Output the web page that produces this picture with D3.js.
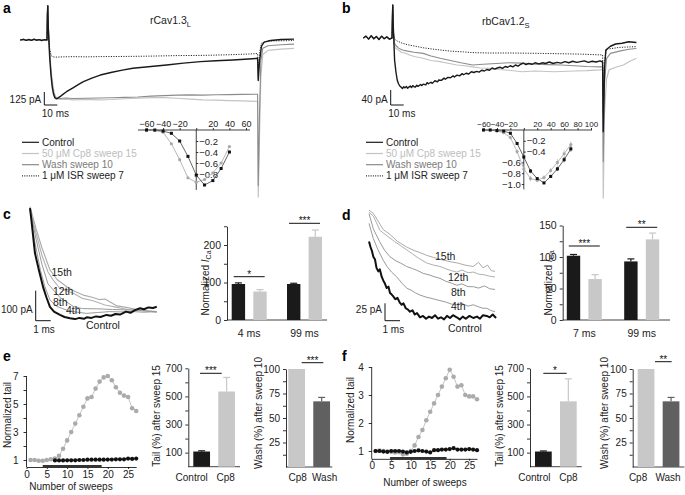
<!DOCTYPE html>
<html><head><meta charset="utf-8">
<script src="https://cdn.jsdelivr.net/npm/d3@7"></script>
<style>body{margin:0;background:#fff;}</style>
</head><body>
<script>
// ================= DATA =================
// Panel a traces (time ms, current pA)
const preA=[[-20.5,0],[-18,6],[-16,-4],[-14,5],[-12,-3],[-10,7],[-8,-2],[-6,4],[-4,-5],[-2,3],[0,0]];
const aCtrl=[[0.3,250],[0.6,330],[1,120],[2,-150],[3,-330],[4,-450],[5,-520],[6,-555],[7,-565],[8,-562],[10,-545],[12,-525],[15,-497],[20,-460],[24,-430],[28,-401],[35,-365],[41,-337],[50,-310],[58,-290],[66,-272],[80,-255],[92,-240],[105,-222],[118,-208],[130,-200],[143,-192],[155,-183],[162,-176],[162.5,-390],[163.5,-200],[165,-60],[167,-20],[172,-5],[180,5],[190,8]];
const aCp8=[[0.3,250],[0.6,330],[1,120],[2,-100],[3,-260],[4,-380],[5,-470],[6,-525],[7,-550],[8,-565],[10,-572],[15,-568],[20,-575],[30,-570],[40,-575],[50,-572],[60,-565],[70,-560],[80,-555],[90,-555],[100,-560],[110,-568],[120,-575],[130,-578],[140,-582],[150,-585],[162,-590],[162.5,-1510],[163.5,-900],[164.5,-350],[166,-140],[170,-100],[180,-88],[190,-80]];
const aWash=[[0.3,250],[0.6,330],[1,120],[2,-120],[3,-300],[4,-420],[5,-500],[6,-540],[7,-555],[8,-560],[10,-562],[15,-558],[20,-562],[30,-560],[40,-558],[50,-555],[60,-552],[70,-548],[80,-540],[90,-535],[100,-530],[110,-528],[120,-530],[130,-527],[140,-525],[150,-523],[162,-522],[162.5,-1400],[163.5,-700],[164.5,-200],[166,-80],[170,-55],[180,-45],[190,-40]];
const aISR=[[0.3,250],[0.6,330],[1,60],[2,-80],[3,-140],[4,-160],[6,-165],[10,-163],[20,-160],[30,-162],[40,-160],[60,-158],[80,-155],[100,-150],[120,-148],[140,-142],[155,-135],[162,-130],[162.5,-360],[163.5,-120],[165,-30],[170,-10],[190,-5]];

// Panel b traces
const preB=[[-22,0],[-20,5],[-18,-3],[-16,6],[-14,-2],[-12,4],[-10,-4],[-8,5],[-6,-2],[-4,3],[-2,-3],[0,0]];
const bCtrl=[[0.3,60],[0.6,88],[1,30],[2,-59],[3,-90],[4,-112],[5,-122],[6,-128],[7,-131],[8,-135],[9,-130],[10,-133],[11,-129],[12,-134],[13,-131],[14,-128],[15,-132],[16,-127],[17,-130],[18,-131],[19,-126],[20,-129],[22,-124],[23,-127],[24,-123],[26,-125],[27,-119],[28,-122],[30,-118],[31,-121],[33,-114],[35,-117],[36,-112],[38,-113],[40,-107],[41,-110],[43,-105],[45,-106],[47,-101],[48,-104],[50,-99],[52,-101],[54,-95],[55,-98],[57,-94],[59,-96],[61,-90],[63,-92],[65,-89],[67,-91],[69,-86],[71,-88],[73,-84],[75,-86],[77,-80],[79,-83],[81,-80],[83,-78],[85,-81],[87,-76],[89,-78],[91,-74],[93,-77],[95,-72],[97,-75],[99,-70],[101,-67],[103,-71],[105,-68],[108,-70],[110,-66],[113,-69],[116,-66],[118,-68],[121,-64],[124,-68],[127,-65],[130,-67],[133,-63],[136,-66],[139,-62],[142,-65],[145,-63],[148,-61],[151,-65],[154,-62],[157,-64],[160,-61],[162,-64],[162.5,-250],[163.5,-80],[164.5,-32],[168,-22],[172,-16],[177,-14],[182,-10],[188,-12]];
const bCp8=[[0.3,50],[0.6,88],[1,20],[2,-23],[3,-28],[5,-32],[7,-38],[10,-40],[14,-46],[18,-50],[24,-54],[30,-60],[37,-63],[44,-68],[50,-72],[56,-74],[62,-77],[68,-80],[75,-81],[82,-84],[90,-86],[100,-90],[110,-88],[125,-90],[140,-88],[150,-87],[160,-85],[162,-84],[162.5,-427],[163.5,-200],[165,-110],[167,-85],[172,-78],[178,-72],[183,-62],[188,-54]];
const bWash=[[0.3,50],[0.6,88],[1,20],[2,-14],[3,-20],[5,-27],[8,-32],[12,-35],[17,-38],[24,-41],[30,-48],[37,-54],[45,-60],[53,-66],[62,-72],[70,-70],[80,-68],[90,-66],[100,-67],[110,-70],[120,-71],[130,-72],[140,-74],[150,-76],[160,-77],[162,-77],[162.5,-330],[163.5,-120],[165,-55],[168,-41],[175,-35],[182,-30],[188,-28]];
const bISR=[[0.3,40],[0.6,88],[1,15],[2,-3],[4,-8],[8,-14],[12,-18],[18,-22],[24,-26],[30,-29],[37,-32],[45,-35],[55,-37],[62,-39],[75,-40],[90,-40],[114,-41],[130,-42],[145,-43],[160,-45],[162,-45],[162.5,-200],[163.5,-60],[165,-30],[175,-25],[188,-23]];

// I-V insets (mV, normalized current)
const ivVoltA=[-60,-50,-40,-30,-20,-10,0,10,20,30,40];
const ivCtrlA=[0,0,-0.02,-0.06,-0.2,-0.48,-0.82,-1.0,-0.92,-0.7,-0.4];
const ivCp8A=[-0.01,-0.01,-0.04,-0.25,-0.54,-0.87,-0.95,-0.9,-0.78,-0.6,-0.3];
const ivVoltB=[-60,-50,-40,-30,-20,-10,0,10,20,30,40,50,60,70];
const ivCtrlB=[0,0,-0.01,-0.02,-0.06,-0.25,-0.5,-0.76,-0.9,-0.98,-0.86,-0.72,-0.55,-0.35];
const ivCp8B=[0,0,-0.02,-0.05,-0.14,-0.4,-0.72,-0.9,-0.93,-0.88,-0.75,-0.6,-0.44,-0.27];
const ivCtrlErrB=[0,0,0,0.01,0.02,0.03,0.04,0.04,0.03,0.02,0.03,0.04,0.05,0.05];
const ivCp8ErrB=[0,0,0,0.01,0.02,0.04,0.05,0.05,0.04,0.04,0.05,0.06,0.07,0.06];

const legendLabels=["Control","50 \u03bcM Cp8 sweep 15","Wash sweep 10","1 \u03bcM ISR sweep 7"];

// Panel c tail traces (ms, pA)
const c15=[[0,378],[0.4,305],[0.8,240],[1.33,167],[1.8,135],[2.45,111],[3,95],[3.55,83],[4.2,75],[4.6,68],[5,70],[5.8,47],[6.4,42],[7.33,33],[7.8,30],[8.45,25]];
const c12=[[0,375],[0.4,290],[0.8,215],[1.2,160],[1.55,133],[2,105],[2.89,89],[3.5,72],[4.2,64],[5,50],[5.8,42],[6.5,35],[7.33,33],[8,30],[8.45,28]];
const c8=[[0,372],[0.4,270],[0.8,185],[1.2,120],[1.56,100],[2,75],[2.89,45],[3.5,38],[4.67,37],[5.5,35],[6.87,33],[7.7,30],[8.45,28]];
const c4=[[0,370],[0.3,265],[0.7,165],[1,110],[1.33,67],[1.8,45],[2.45,33],[3,27],[3.78,22],[4.5,25],[5.33,28],[6,27],[6.87,28],[7.6,26],[8.45,28]];
const cCtrl=[[0,373],[0.1,330],[0.33,223],[0.6,165],[0.89,107],[1.1,75],[1.33,44],[1.6,28],[2,17],[2.3,10],[2.67,6],[3,3],[3.3,7],[3.6,4],[3.78,9],[4.1,7],[4.4,12],[4.7,10],[5.1,17],[5.4,14],[5.7,20],[6,18],[6.4,28],[6.7,24],[7,33],[7.33,39],[7.6,36],[7.9,42],[8.2,40],[8.45,44]];

// Panel d tail traces
const d15=[[0,155],[0.3,150],[0.95,127],[1.4,120],[1.9,110],[2.51,102],[3,97],[3.4,94],[3.85,90],[4.3,87],[4.8,84],[5.4,81],[5.9,79],[6.4,76],[6.95,74],[7.3,80],[7.6,72],[7.9,76],[8.15,68],[8.4,67]];
const d12=[[0,152],[0.3,146],[0.73,126],[1.2,118],[1.7,110],[2.1,104],[2.51,98],[2.9,92],[3.3,86],[3.85,79],[4.3,76],[4.73,74],[5.2,70],[5.5,68],[5.85,66],[6.2,69],[6.6,65],[6.95,66],[7.3,63],[7.7,62],[8.05,60],[8.4,59]];
const d8=[[0,150],[0.29,128],[0.7,110],[1.05,97],[1.4,88],[1.8,82],[2.1,79],[2.51,74],[2.9,71],[3.25,68],[3.62,64],[4,62],[4.4,59],[4.73,57],[5.1,53],[5.5,50],[5.85,47],[6.2,49],[6.6,45],[6.95,45],[7.3,43],[7.7,46],[8.05,42],[8.4,41]];
const d4=[[0,136],[0.29,114],[0.6,98],[0.95,83],[1.2,74],[1.5,66],[1.85,59],[2.2,50],[2.51,43],[2.8,40],[3.1,36],[3.4,33],[3.8,30],[4.2,28],[4.73,25],[5.1,23],[5.5,20],[5.85,19],[6.2,21],[6.6,17],[6.95,19],[7.3,16],[7.6,14],[7.85,14],[8.1,11],[8.4,9]];
const dCtrl=[[0,110],[0.1,102],[0.2,96],[0.29,88],[0.4,84],[0.5,72],[0.62,67],[0.72,70],[0.85,59],[0.95,54],[1.05,50],[1.18,43],[1.3,45],[1.4,36],[1.5,34],[1.62,31],[1.75,27],[1.9,29],[2.05,22],[2.18,19],[2.3,21],[2.45,14],[2.6,12],[2.73,9],[2.9,11],[3.05,5],[3.2,7],[3.4,1],[3.6,3],[3.8,-1],[4,2],[4.2,0],[4.4,4],[4.6,-1],[4.8,1],[5,-2],[5.2,3],[5.4,0],[5.6,4],[5.85,1],[6.05,-2],[6.25,2],[6.45,-1],[6.7,3],[6.95,0],[7.2,2],[7.4,-1],[7.6,4],[7.85,3],[8.05,1],[8.25,5],[8.47,0]];

// Bar charts c, d
const cGroups=["4 ms","99 ms"];
const cCtrlBar=[96,96], cCtrlErr=[3,2], cCp8Bar=[76,222], cCp8Err=[5,18];
const dGroups=["7 ms","99 ms"];
const dCtrlBar=[102,93], dCtrlErr=[2,4], dCp8Bar=[65,128], dCp8Err=[7,10];

// Panel e/f sweep data
const sweepsAll=[1,2,3,4,5,6,7,8,9,10,11,12,13,14,15,16,17,18,19,20,21,22,23,24,25,26,27];
const eCp8=[1.0,1.0,0.95,0.95,1.0,1.05,1.1,1.3,1.8,2.4,3.0,3.6,4.2,4.8,5.4,5.5,6.1,6.6,6.9,7.0,6.7,6.2,5.8,5.6,5.5,4.7,4.5];
const eCtrlSweeps=[7,8,9,10,11,12,13,14,15,16,17,18,19,20,21,22,23,24,25,26,27];
const eCtrl=[0.97,0.97,0.97,0.98,0.98,0.98,1.0,1.0,1.02,1.02,1.02,1.02,1.02,1.03,1.03,1.05,1.05,1.05,1.1,1.08,1.1];
const fCp8=[1.0,1.02,1.0,0.98,0.97,0.95,0.96,0.88,0.9,1.0,1.2,1.5,1.75,2.1,2.4,2.7,3.0,3.3,3.6,3.9,3.65,3.3,3.35,3.0,2.95,2.95,2.85];
const fCtrl=[1.0,1.0,0.98,0.97,1.0,1.0,1.0,0.98,0.95,0.97,1.0,1.02,1.0,0.98,0.95,1.03,1.03,1.05,1.05,1.07,1.1,1.05,1.05,1.05,1.07,1.05,1.03];
const eAppl=[4,18.5], fAppl=[4.7,19.2];

const tailCats=["Control","Cp8"], washCats=["Cp8","Wash"];
const eTail=[108,535], eTailErr=[5,100];
const eWash=[100,67], eWashErr=[0,4];
const fTail=[108,465], fTailErr=[4,160];
const fWash=[100,67], fWashErr=[0,4];

// ================= DRAWING =================
const FONT='"Liberation Sans", Arial, Helvetica, sans-serif';
const COL={black:"#1a1a1a", light:"#c3c3c3", mid:"#8c8c8c", dark:"#606060", lgTxt:"#bdbdbd", mdTxt:"#7a7a7a"};
const FS=10;
const svg=d3.select("body").append("svg").attr("width",685).attr("height",495)
  .style("font-family",FONT).style("background","#fff");

function txt(x,y,s,o={}){
  const t=svg.append("text").attr("x",x).attr("y",y).text(s)
    .attr("font-size",o.size||FS).attr("fill",o.fill||"#222")
    .attr("text-anchor",o.anchor||"start");
  if(o.weight) t.attr("font-weight",o.weight);
  return t;
}
function ln(x1,y1,x2,y2,o={}){
  return svg.append("line").attr("x1",x1).attr("y1",y1).attr("x2",x2).attr("y2",y2)
    .attr("stroke",o.stroke||"#111").attr("stroke-width",o.w||0.9)
    .attr("stroke-dasharray",o.dash||null);
}
function trace(data,xs,ys,o){
  svg.append("path").datum(data)
    .attr("d",d3.line().x(d=>xs(d[0])).y(d=>ys(d[1])))
    .attr("fill","none").attr("stroke",o.stroke).attr("stroke-width",o.w||1)
    .attr("stroke-dasharray",o.dash||null).attr("stroke-linejoin","round");
}
function styleAxis(g,size){
  g.attr("font-family",FONT).attr("font-size",size||FS);
  g.select(".domain").attr("stroke-width",0.8);
  g.selectAll(".tick line").attr("stroke-width",0.8);
  g.selectAll(".tick text").attr("fill","#222");
  return g;
}
function rotText(x,y,s){
  return svg.append("text").attr("transform",`translate(${x},${y}) rotate(-90)`).attr("text-anchor","middle")
    .attr("font-size",FS).attr("fill","#222").text(s);
}

// ---- panel letters
[["a",3,13],["b",342,13],["c",3,219],["d",342,220],["e",3,361],["f",342,361]].forEach(d=>txt(d[1],d[2],d[0],{size:14,weight:"bold",fill:"#000"}));

// ---- titles
const tA=txt(150,24,"rCav1.3",{size:10.5});
tA.append("tspan").attr("dy",3).attr("font-size",7.5).text("L");
const tB=txt(482,25,"rbCav1.2",{size:10.5});
tB.append("tspan").attr("dy",3).attr("font-size",7.5).text("S");

// ---- traces panels a,b
function tracePanel(cfg){
  const xs=cfg.xs, ys=cfg.ys;
  const sets=[[cfg.cp8,COL.light,1.2,null],[cfg.wash,COL.mid,1.1,null],[cfg.isr,"#2a2a2a",1,"1.2,1.3"],[cfg.ctrl,COL.black,1.4,null]];
  sets.forEach(s=>trace(cfg.pre.concat(s[0]),xs,ys,{stroke:s[1],w:s[2],dash:s[3]}));
  const bx=cfg.sb[0], by=cfg.sb[1];
  const vlen=ys(-cfg.sbPA)-ys(0), hlen=xs(10)-xs(0);
  ln(bx,by,bx,by-vlen,{w:1}); ln(bx,by,bx+hlen,by,{w:1});
  txt(bx-3,by-2,cfg.sbLabel,{anchor:"end"});
  txt(bx-2.5,by+12,"10 ms");
  const cols=[COL.black,COL.light,COL.mid,"#2a2a2a"], tcols=["#222",COL.lgTxt,COL.mdTxt,"#222"];
  legendLabels.forEach((l,i)=>{
    const y=cfg.leg[1]+i*11.2;
    ln(cfg.leg[0],y,cfg.leg[0]+17,y,{stroke:cols[i],w:1.2,dash:i===3?"1,1.3":null});
    txt(cfg.leg[0]+20,y+3.5,l,{fill:tcols[i]});
  });
}
tracePanel({pre:preA,ctrl:aCtrl,cp8:aCp8,wash:aWash,isr:aISR,
  xs:d3.scaleLinear().domain([0,10]).range([47,60]),
  ys:d3.scaleLinear().domain([0,-125]).range([40,53]),
  sb:[44.3,105],sbPA:125,sbLabel:"125 pA",leg:[22,142.3]});
tracePanel({pre:preB,ctrl:bCtrl,cp8:bCp8,wash:bWash,isr:bISR,
  xs:d3.scaleLinear().domain([0,10]).range([392,405]),
  ys:d3.scaleLinear().domain([0,-40]).range([38,53]),
  sb:[390.7,105],sbPA:40,sbLabel:"40 pA",leg:[366,142.3]});

// ---- IV insets
function ivPanel(cfg){
  const xs=cfg.xs, ys=cfg.ys, x0=xs(0);
  const gx=svg.append("g").attr("transform",`translate(0,${ys(0)})`)
    .call(d3.axisTop(xs).tickValues(cfg.xt).tickFormat(d=>d===0?"":d3.format("")(d)).tickSize(2).tickSizeOuter(0).tickPadding(1.5));
  styleAxis(gx,cfg.xfs); gx.select(".domain").remove();
  ln(cfg.xl[0],ys(0),cfg.xl[1],ys(0),{w:0.8});
  ln(x0,ys(0),x0,ys(cfg.ybot),{w:0.8});
  const gr=svg.append("g").attr("transform",`translate(${x0},0)`)
    .call(d3.axisRight(ys).tickValues(cfg.ytR).tickFormat(d3.format(".1f")).tickSize(2).tickPadding(1));
  styleAxis(gr,9.5); gr.select(".domain").remove();
  if(cfg.ytL){
    const gl=svg.append("g").attr("transform",`translate(${x0},0)`)
      .call(d3.axisLeft(ys).tickValues(cfg.ytL).tickFormat(d3.format(".1f")).tickSize(2).tickPadding(1));
    styleAxis(gl,9.5); gl.select(".domain").remove();
  }
  const lineG=d3.line().x(d=>xs(d[0])).y(d=>ys(d[1]));
  const cp=cfg.v.map((v,i)=>[v,cfg.cp8[i]]), ct=cfg.v.map((v,i)=>[v,cfg.ctrl[i]]);
  if(cfg.cp8Err){
    cp.forEach((d,i)=>{ if(cfg.cp8Err[i]>0.015) ln(xs(d[0]),ys(d[1]-cfg.cp8Err[i]),xs(d[0]),ys(d[1]+cfg.cp8Err[i]),{stroke:"#b5b5b5",w:0.7}); });
    ct.forEach((d,i)=>{ if(cfg.ctrlErr[i]>0.015) ln(xs(d[0]),ys(d[1]-cfg.ctrlErr[i]),xs(d[0]),ys(d[1]+cfg.ctrlErr[i]),{stroke:"#333",w:0.7}); });
  }
  svg.append("path").datum(cp).attr("d",lineG).attr("fill","none").attr("stroke","#b8b8b8").attr("stroke-width",1);
  svg.append("path").datum(ct).attr("d",lineG).attr("fill","none").attr("stroke","#555").attr("stroke-width",0.9);
  svg.selectAll(null).data(cp).enter().append("circle").attr("cx",d=>xs(d[0])).attr("cy",d=>ys(d[1])).attr("r",1.6).attr("fill","#a8a8a8");
  svg.selectAll(null).data(ct).enter().append("rect").attr("x",d=>xs(d[0])-1.5).attr("y",d=>ys(d[1])-1.5).attr("width",3).attr("height",3).attr("fill","#111");
}
ivPanel({xs:d3.scaleLinear().domain([-60,60]).range([146.5,246]),ys:d3.scaleLinear().domain([0,-1]).range([130,185]),
  xt:[-60,-40,-20,0,20,40,60],xl:[138,250],ybot:-1.09,ytR:[-0.2,-0.4,-0.6,-0.8],xfs:9,
  v:ivVoltA,ctrl:ivCtrlA,cp8:ivCp8A});
ivPanel({xs:d3.scaleLinear().domain([-60,100]).range([483.5,591]),ys:d3.scaleLinear().domain([0,-1]).range([130,184]),
  xt:[-60,-40,-20,0,20,40,60,80,100],xl:[482,592],ybot:-1.1,ytR:[-0.2,-0.4],ytL:[-0.6,-0.8,-1.0],xfs:8,
  v:ivVoltB,ctrl:ivCtrlB,cp8:ivCp8B,ctrlErr:ivCtrlErrB,cp8Err:ivCp8ErrB});

// ---- tail traces c, d
function tailPanel(cfg){
  const xs=cfg.xs, ys=cfg.ys;
  cfg.sets.forEach(s=>trace(s[0],xs,ys,{stroke:s[1],w:s[2]}));
  const bx=cfg.sb[0], by=cfg.sb[1];
  ln(bx,by,bx,by-(ys(0)-ys(cfg.sbPA)),{w:1});
  ln(bx,by,bx+(xs(1)-xs(0)),by,{w:1});
  txt(bx-3,by-8,cfg.sbLabel,{anchor:"end"});
  txt(bx-2.5,by+12,"1 ms");
  cfg.labels.forEach(l=>txt(l[1],l[2],l[0],{size:10.5}));
}
tailPanel({xs:d3.scaleLinear().domain([0,1]).range([30,45]),ys:d3.scaleLinear().domain([0,100]).range([320,290]),
  sets:[[c15,"#ababab",1.1],[c12,"#b3b3b3",1.1],[c8,"#9a9a9a",1],[c4,"#9a9a9a",1],[cCtrl,"#111",2]],
  sb:[35.7,320.7],sbPA:100,sbLabel:"100 pA",
  labels:[["15th",51.5,276],["12th",53,295],["8th",53,305.5],["4th",66,314],["Control",86,329]]});
tailPanel({xs:d3.scaleLinear().domain([0,1]).range([369,384]),ys:d3.scaleLinear().domain([0,25]).range([318,300.6]),
  sets:[[d15,"#ababab",1],[d12,"#b0b0b0",1],[d8,"#9a9a9a",1],[d4,"#9a9a9a",1],[dCtrl,"#111",2]],
  sb:[385,320.7],sbPA:25,sbLabel:"25 pA",
  labels:[["15th",435,260],["12th",448,281],["8th",451,295.5],["4th",451,310],["Control",448,332]]});

// ---- grouped bar charts c, d
function normLabel(x,y){
  const t=svg.append("text").attr("transform",`translate(${x},${y}) rotate(-90)`).attr("text-anchor","middle")
    .attr("font-size",FS).attr("fill","#222");
  t.append("tspan").text("Normalized ");
  t.append("tspan").attr("font-style","italic").text("I");
  t.append("tspan").attr("font-size",7).attr("dy",2).text("Ca");
}
function stars(x1,x2,y,s){
  ln(x1,y,x2,y,{w:1});
  txt((x1+x2)/2,y+1,s,{anchor:"middle",size:10,fill:"#111"});
}
function groupBars(cfg){
  const xg=d3.scalePoint().domain(cfg.groups).range(cfg.gr);
  const sub=d3.scaleBand().domain(["Control","Cp8"]).range([-17.5,17.5]).paddingInner(0.38);
  const y=cfg.y;
  const gy=svg.append("g").attr("transform",`translate(${cfg.ax},0)`)
    .call(d3.axisLeft(y).tickValues(cfg.ticks).tickFormat(d=>cfg.lab.includes(d)?d:"").tickSize(3).tickSizeOuter(0));
  styleAxis(gy,10.5);
  ln(cfg.ax,y(0),cfg.xEnd,y(0),{w:0.8});
  const series=[["Control",cfg.ctrl,cfg.ctrlErr,COL.black],["Cp8",cfg.cp8,cfg.cp8Err,"#c8c8c8"]];
  series.forEach(s=>{
    cfg.groups.forEach((g,i)=>{
      const x=xg(g)+sub(s[0]), w=sub.bandwidth(), cx=x+w/2;
      const top=y(s[1][i]+s[2][i]);
      ln(cx,y(s[1][i]),cx,top,{stroke:s[3],w:1.2});
      ln(cx-3.5,top,cx+3.5,top,{stroke:s[3],w:1.2});
      svg.append("rect").attr("x",x).attr("y",y(s[1][i])).attr("width",w).attr("height",y(0)-y(s[1][i])).attr("fill",s[3]);
    });
  });
  cfg.groups.forEach(g=>txt(xg(g),y(0)+17,g,{anchor:"middle",size:10.5}));
  normLabel(cfg.lx,cfg.ly);
  cfg.stars.forEach(s=>{
    const g=cfg.groups[s[0]];
    stars(xg(g)+sub("Control")+2,xg(g)+sub("Cp8")+sub.bandwidth()-2,s[1],s[2]);
  });
}
groupBars({groups:cGroups,gr:[249.2,304.5],y:d3.scaleLinear().domain([0,250]).range([320,226.25]),ax:227,xEnd:327,
  ticks:[0,50,100,150,200,250],lab:[0,100,200],ctrl:cCtrlBar,ctrlErr:cCtrlErr,cp8:cCp8Bar,cp8Err:cCp8Err,
  lx:209,ly:283,stars:[[0,276.7,"*"],[1,223.3,"***"]]});
groupBars({groups:dGroups,gr:[584.3,641.7],y:d3.scaleLinear().domain([0,150]).range([320,225.5]),ax:562.7,xEnd:670,
  ticks:[0,25,50,75,100,125,150],lab:[0,50,100,150],ctrl:dCtrlBar,ctrlErr:dCtrlErr,cp8:dCp8Bar,cp8Err:dCp8Err,
  lx:552,ly:283,stars:[[0,246,"***"],[1,227.3,"**"]]});

// ---- sweep scatter e, f
function sweepPanel(cfg){
  const xs=cfg.xs, ys=cfg.ys, yb=ys(cfg.ymin);
  const gx=svg.append("g").attr("transform",`translate(0,${yb})`)
    .call(d3.axisBottom(xs).tickValues([0,5,10,15,20,25]).tickSize(2).tickSizeOuter(0).tickPadding(1.5));
  styleAxis(gx,10);
  const gy=svg.append("g").attr("transform",`translate(${xs(0)},0)`)
    .call(d3.axisLeft(ys).tickValues(cfg.yt).tickFormat(d=>cfg.yl.includes(d)?d:"").tickSize(3).tickSizeOuter(0).tickPadding(5));
  styleAxis(gy,10);
  gy.select(".domain").attr("d",`M0,${yb}V${ys(cfg.ymax)}`);
  ln(xs(cfg.appl[0]),yb-0.5,xs(cfg.appl[1]),yb-0.5,{stroke:"#333",w:2.8});
  const lineG=d3.line().x(d=>xs(d[0])).y(d=>ys(d[1]));
  const g=cfg.sw.map((s,i)=>[s,cfg.cp8[i]]), b=cfg.csw.map((s,i)=>[s,cfg.ctrl[i]]);
  svg.append("path").datum(g).attr("d",lineG).attr("fill","none").attr("stroke","#c4c4c4").attr("stroke-width",1);
  svg.selectAll(null).data(g).enter().append("circle").attr("cx",d=>xs(d[0])).attr("cy",d=>ys(d[1])).attr("r",2.3).attr("fill","#ababab");
  svg.append("path").datum(b).attr("d",lineG).attr("fill","none").attr("stroke","#111").attr("stroke-width",1);
  svg.selectAll(null).data(b).enter().append("circle").attr("cx",d=>xs(d[0])).attr("cy",d=>ys(d[1])).attr("r",2.1).attr("fill","#111");
  txt(cfg.xlab[0],cfg.xlab[1],"Number of sweeps",{anchor:"middle"});
  rotText(cfg.ylab[0],cfg.ylab[1],"Normalized tail");
}
sweepPanel({xs:d3.scaleLinear().domain([0,27]).range([26.5,136.2]),ys:d3.scaleLinear().domain([1,7]).range([460,376]),
  ymin:0.5,ymax:7,yt:[1,2,3,4,5,6,7],yl:[1,3,5,7],appl:eAppl,sw:sweepsAll,cp8:eCp8,csw:eCtrlSweeps,ctrl:eCtrl,
  xlab:[71,490],ylab:[10.5,415]});
sweepPanel({xs:d3.scaleLinear().domain([0,27]).range([371.7,477]),ys:d3.scaleLinear().domain([1,4]).range([451,367]),
  ymin:0.72,ymax:4,yt:[1,2,3,4],yl:[1,2,3,4],appl:fAppl,sw:sweepsAll,cp8:fCp8,csw:sweepsAll,ctrl:fCtrl,
  xlab:[425,486],ylab:[353.5,410]});

// ---- simple bar charts e, f
function simpleBars(cfg){
  const x=d3.scaleBand().domain(cfg.cats).range(cfg.xr).paddingInner(0.33).paddingOuter(cfg.po);
  const y=cfg.y;
  const gy=svg.append("g").attr("transform",`translate(${cfg.xr[0]},0)`)
    .call(d3.axisLeft(y).tickValues(cfg.ticks).tickFormat(d=>cfg.lab.includes(d)?d:"").tickSize(3).tickSizeOuter(0));
  styleAxis(gy,10);
  ln(cfg.xr[0],y(0),cfg.xr[1],y(0),{w:0.8});
  cfg.cats.forEach((c,i)=>{
    const bx=x(c), w=x.bandwidth(), cx=bx+w/2, col=cfg.cols[i];
    if(cfg.err[i]>0){
      const top=y(cfg.vals[i]+cfg.err[i]);
      ln(cx,y(cfg.vals[i]),cx,top,{stroke:col,w:1.2});
      ln(cx-3.5,top,cx+3.5,top,{stroke:col,w:1.2});
    }
    svg.append("rect").attr("x",bx).attr("y",y(cfg.vals[i])).attr("width",w).attr("height",y(0)-y(cfg.vals[i])).attr("fill",col);
    txt(cx+cfg.lo[i],y(0)+14,c,{anchor:"middle"});
  });
  rotText(cfg.lab2[0],cfg.lab2[1],cfg.title);
  stars(cfg.st[0],cfg.st[1],cfg.st[2],cfg.st[3]);
}
const yTailScale=d3.scaleLinear().domain([0,700]).range([466.7,368.3]);
const yWashScale=d3.scaleLinear().domain([0,100]).range([467,369]);
simpleBars({cats:tailCats,xr:[188.3,240],po:0.2,y:yTailScale,ticks:[100,200,300,400,500,600,700],lab:[100,300,500,700],
  vals:eTail,err:eTailErr,cols:[COL.black,"#c8c8c8"],title:"Tail (%) after sweep 15",lab2:[160,416],st:[200,221.7,373.3,"***"],lo:[-10,-1]});
simpleBars({cats:washCats,xr:[286,332.3],po:0.09,y:yWashScale,ticks:[12.5,25,37.5,50,62.5,75,87.5,100],lab:[25,50,75,100],
  vals:eWash,err:eWashErr,cols:["#c8c8c8",COL.dark],title:"Wash (%) after sweep 10",lab2:[262,413],st:[301.7,323.3,362.7,"***"],lo:[1,3]});
simpleBars({cats:tailCats,xr:[530,581.7],po:0.2,y:yTailScale,ticks:[100,200,300,400,500,600,700],lab:[100,300,500,700],
  vals:fTail,err:fTailErr,cols:[COL.black,"#c8c8c8"],title:"Tail (%) after sweep 15",lab2:[502.5,416],st:[543.3,566.7,373.3,"*"],lo:[-9,0]});
simpleBars({cats:washCats,xr:[632.7,684.4],po:0.2,y:yWashScale,ticks:[12.5,25,37.5,50,62.5,75,87.5,100],lab:[25,50,75,100],
  vals:fWash,err:fWashErr,cols:["#c8c8c8",COL.dark],title:"Wash (%) after sweep 10",lab2:[608,413],st:[655,671.7,361.7,"**"],lo:[-8,-3]});
</script>
</body></html>
